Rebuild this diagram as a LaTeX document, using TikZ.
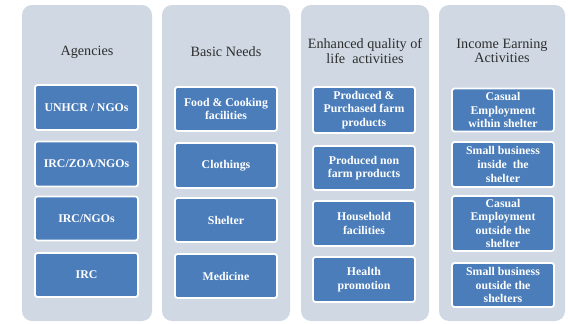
\documentclass[tikz,border=0pt]{standalone}
\usepackage{fontspec}
\setmainfont{Liberation Serif}
\begin{document}
\begin{tikzpicture}[x=1pt,y=-1pt,
  panel/.style={draw=none,fill=panelgrey,rounded corners=10pt},
  bluebox/.style={draw=white,line width=1.8pt,fill=boxblue,rounded corners=2.5pt,text=white,
    font=\fontsize{11.8}{13.6}\selectfont\bfseries,align=center,inner sep=0pt},
  head/.style={text=headgrey,font=\fontsize{14.2}{14.5}\selectfont,align=center}]
\definecolor{panelgrey}{HTML}{D0D8E3}
\definecolor{boxblue}{HTML}{4A7DBA}
\definecolor{headgrey}{HTML}{2E2E2E}
\useasboundingbox (0,0) rectangle (568,324);
\fill[white] (0,0) rectangle (568,324);
% panels
\node[panel,minimum width=130pt,minimum height=316pt] (p1) at (87,163) {};
\node[panel,minimum width=128pt,minimum height=316pt] (p2) at (226,163) {};
\node[panel,minimum width=128pt,minimum height=316pt] (p3) at (365,163) {};
\node[panel,minimum width=126pt,minimum height=316pt] (p4) at (502,163) {};
% headers
\node[head] (h1) at (87,52) {Agencies};
\node[head] (h2) at (226,52) {Basic Needs};
\node[head] (h3) at (365,51) {Enhanced quality of\\life\ \ activities};
\node[head] (h4) at (502,51) {Income Earning\\Activities};
% column 1
\node[bluebox,minimum width=103pt,minimum height=45pt] (a1) at (86.5,107.5) {UNHCR / NGOs};
\node[bluebox,minimum width=103pt,minimum height=45pt] (a2) at (86.5,164) {IRC/ZOA/NGOs};
\node[bluebox,minimum width=103pt,minimum height=44pt] (a3) at (86.5,218.5) {IRC/NGOs};
\node[bluebox,minimum width=103pt,minimum height=44pt] (a4) at (86.5,275) {IRC};
% column 2
\node[bluebox,minimum width=102pt,minimum height=44pt] (b1) at (226,109) {Food \& Cooking\\facilities};
\node[bluebox,minimum width=102pt,minimum height=45pt] (b2) at (226,165.5) {Clothings};
\node[bluebox,minimum width=102pt,minimum height=44pt] (b3) at (226,220) {Shelter};
\node[bluebox,minimum width=102pt,minimum height=44pt] (b4) at (226,276) {Medicine};
% column 3
\node[bluebox,minimum width=102pt,minimum height=46pt] (c1) at (364,110) {Produced \&\\Purchased farm\\products};
\node[bluebox,minimum width=102pt,minimum height=44pt] (c2) at (364,168) {Produced non\\farm products};
\node[bluebox,minimum width=102pt,minimum height=45pt] (c3) at (364,223.5) {Household\\facilities};
\node[bluebox,minimum width=102pt,minimum height=45pt] (c4) at (364,279.5) {Health\\promotion};
% column 4
\node[bluebox,minimum width=102pt,minimum height=43pt] (d1) at (503,110) {Casual\\Employment\\within shelter};
\node[bluebox,minimum width=102pt,minimum height=45pt] (d2) at (503,164.5) {Small business\\inside\ \ the\\shelter};
\node[bluebox,minimum width=102pt,minimum height=55pt] (d3) at (503,223.5) {Casual\\Employment\\outside the\\shelter};
\node[bluebox,minimum width=102pt,minimum height=44pt] (d4) at (503,285) {Small business\\outside the\\shelters};
\end{tikzpicture}
\end{document}
